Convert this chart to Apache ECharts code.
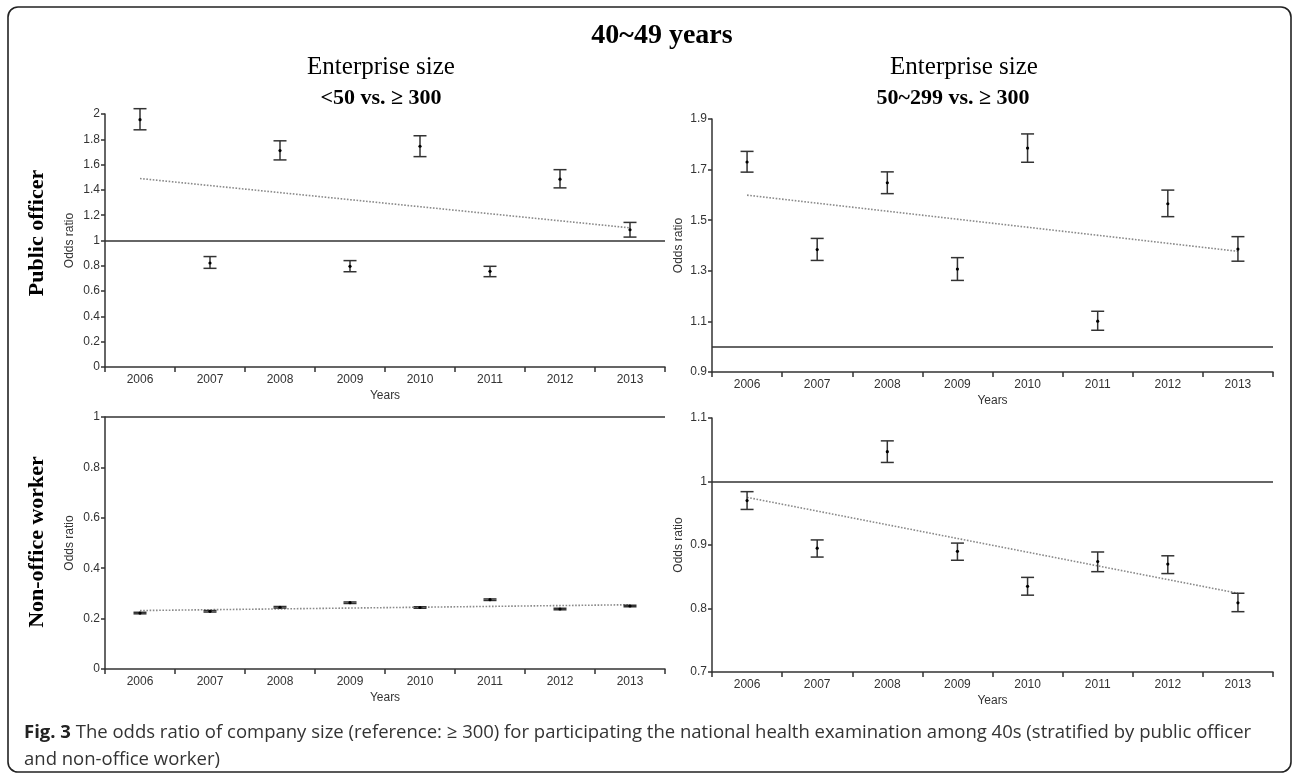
<!DOCTYPE html>
<html>
<head>
<meta charset="utf-8">
<script src="https://cdn.jsdelivr.net/npm/echarts@6/dist/echarts.min.js"></script>
<style>
html,body{margin:0;padding:0;background:#fff;}
#c{width:1295px;height:776px;}
</style>
</head>
<body>
<div id="c"></div>
<script>
// ---- data ----
const years = ['2006','2007','2008','2009','2010','2011','2012','2013'];

// Public officer, <50 vs >=300
const pubSmallOR = [1.955, 0.822, 1.711, 0.796, 1.745, 0.756, 1.485, 1.085];
const pubSmallLo = [1.875, 0.780, 1.637, 0.753, 1.663, 0.714, 1.416, 1.027];
const pubSmallHi = [2.042, 0.873, 1.788, 0.841, 1.828, 0.796, 1.560, 1.143];
const pubSmallTrend = [1.49, 1.10];

// Public officer, 50~299 vs >=300
const pubMidOR = [1.730, 1.384, 1.648, 1.307, 1.785, 1.101, 1.565, 1.386];
const pubMidLo = [1.690, 1.341, 1.605, 1.262, 1.729, 1.065, 1.514, 1.338];
const pubMidHi = [1.772, 1.428, 1.691, 1.352, 1.841, 1.140, 1.619, 1.435];
const pubMidTrend = [1.599, 1.377];

// Non-office worker, <50 vs >=300
const nonSmallOR = [0.222, 0.229, 0.245, 0.263, 0.244, 0.275, 0.238, 0.250];
const nonSmallLo = [0.219, 0.226, 0.242, 0.260, 0.241, 0.272, 0.235, 0.247];
const nonSmallHi = [0.225, 0.232, 0.248, 0.266, 0.247, 0.278, 0.241, 0.253];
const nonSmallTrend = [0.232, 0.255];

// Non-office worker, 50~299 vs >=300
const nonMidOR = [0.970, 0.895, 1.047, 0.890, 0.835, 0.874, 0.870, 0.809];
const nonMidLo = [0.956, 0.881, 1.030, 0.876, 0.821, 0.858, 0.855, 0.795];
const nonMidHi = [0.984, 0.908, 1.064, 0.903, 0.849, 0.889, 0.883, 0.824];
const nonMidTrend = [0.975, 0.824];

const refValue = 1;

// tick labels
const ticksTL = [0, 0.2, 0.4, 0.6, 0.8, 1, 1.2, 1.4, 1.6, 1.8, 2];
const ticksTR = [0.9, 1.1, 1.3, 1.5, 1.7, 1.9];
const ticksBL = [0, 0.2, 0.4, 0.6, 0.8, 1];
const ticksBR = [0.7, 0.8, 0.9, 1, 1.1];

// ---- chart ----
const chart = echarts.init(document.getElementById('c'), null, {renderer: 'canvas'});
const axisColor = '#333';
const sans = 'Liberation Sans, Arial, sans-serif';
const serif = 'Liberation Serif, Times New Roman, serif';
const capFont = 'Open Sans, Noto Sans, sans-serif';

const grids = [
  {left: 105, top: 114, width: 560, height: 253},
  {left: 712, top: 119, width: 561, height: 253},
  {left: 105, top: 417, width: 560, height: 252},
  {left: 712, top: 418, width: 561, height: 254}
];
const ticks = [ticksTL, ticksTR, ticksBL, ticksBR];
const nameGaps = [29, 27, 29, 27];

function xAxis(i) {
  return {
    type: 'category', gridIndex: i, data: years, boundaryGap: true,
    axisLine: {show: true, lineStyle: {color: axisColor, width: 1.5}},
    axisTick: {show: true, alignWithLabel: false, length: 5, lineStyle: {color: axisColor, width: 1.5}},
    axisLabel: {color: '#333', fontSize: 12, fontFamily: sans, margin: 7},
    name: 'Years', nameLocation: 'middle', nameGap: 23,
    nameTextStyle: {color: '#333', fontSize: 12, fontFamily: sans},
    splitLine: {show: false}
  };
}
function yAxis(i) {
  const t = ticks[i];
  return {
    type: 'value', gridIndex: i, min: t[0], max: t[t.length - 1],
    axisLine: {show: true, lineStyle: {color: axisColor, width: 1.5}},
    axisTick: {show: true, length: 4, customValues: t, lineStyle: {color: axisColor, width: 1.5}},
    axisLabel: {color: '#333', fontSize: 12, fontFamily: sans, margin: 5, customValues: t,
      formatter: v => String(+(+v).toFixed(2))},
    splitLine: {show: false},
    name: 'Odds ratio', nameLocation: 'middle', nameGap: nameGaps[i],
    nameTextStyle: {color: '#333', fontSize: 12, fontFamily: sans}
  };
}

function renderErr(params, api) {
  const x = api.value(0), lo = api.value(1), hi = api.value(2), pt = api.value(3);
  const a = api.coord([x, hi]), b = api.coord([x, lo]), p = api.coord([x, pt]);
  const w = 6.5;
  const st = {stroke: '#333', lineWidth: 1.5, fill: null};
  return {
    type: 'group',
    children: [
      {type: 'line', shape: {x1: a[0], y1: a[1], x2: b[0], y2: b[1]}, style: st},
      {type: 'line', shape: {x1: a[0] - w, y1: a[1], x2: a[0] + w, y2: a[1]}, style: st},
      {type: 'line', shape: {x1: b[0] - w, y1: b[1], x2: b[0] + w, y2: b[1]}, style: st},
      {type: 'circle', shape: {cx: p[0], cy: p[1], r: 1.6}, style: {fill: '#000'}}
    ]
  };
}

const panels = [
  [pubSmallOR, pubSmallLo, pubSmallHi, pubSmallTrend],
  [pubMidOR, pubMidLo, pubMidHi, pubMidTrend],
  [nonSmallOR, nonSmallLo, nonSmallHi, nonSmallTrend],
  [nonMidOR, nonMidLo, nonMidHi, nonMidTrend]
];

const series = [];
panels.forEach((pd, i) => {
  const [or, lo, hi, tr] = pd;
  series.push({
    type: 'line', xAxisIndex: i, yAxisIndex: i, silent: true,
    data: [[0, tr[0]], [years.length - 1, tr[1]]],
    symbol: 'none', z: 2,
    lineStyle: {type: 'dotted', color: '#8a8a8a', width: 1.6},
    markLine: {
      silent: true, symbol: ['none', 'none'], label: {show: false},
      lineStyle: {type: 'solid', color: '#333', width: 1.5},
      emphasis: {disabled: true},
      data: [{yAxis: refValue}]
    }
  });
  series.push({
    type: 'custom', xAxisIndex: i, yAxisIndex: i, silent: true, z: 3,
    renderItem: renderErr,
    data: years.map((y, k) => [k, lo[k], hi[k], or[k]])
  });
});

const graphic = [
  {type: 'rect', shape: {x: 8, y: 7, width: 1283, height: 765, r: 10},
   style: {fill: null, stroke: '#222', lineWidth: 1.6}},
  {type: 'text', x: 662, y: 36, style: {text: '40~49 years', font: 'bold 28px ' + serif, fill: '#000', align: 'center', verticalAlign: 'middle'}},
  {type: 'text', x: 381, y: 67, style: {text: 'Enterprise size', font: '25px ' + serif, fill: '#000', align: 'center', verticalAlign: 'middle'}},
  {type: 'text', x: 381, y: 98, style: {text: '<50 vs. \u2265 300', font: 'bold 22px ' + serif, fill: '#000', align: 'center', verticalAlign: 'middle'}},
  {type: 'text', x: 964, y: 67, style: {text: 'Enterprise size', font: '25px ' + serif, fill: '#000', align: 'center', verticalAlign: 'middle'}},
  {type: 'text', x: 953, y: 98, style: {text: '50~299 vs. \u2265 300', font: 'bold 22px ' + serif, fill: '#000', align: 'center', verticalAlign: 'middle'}},
  {type: 'text', x: 37, y: 233, rotation: Math.PI / 2, style: {text: 'Public officer', font: 'bold 22px ' + serif, fill: '#000', align: 'center', verticalAlign: 'middle'}},
  {type: 'text', x: 37, y: 542, rotation: Math.PI / 2, style: {text: 'Non-office worker', font: 'bold 22px ' + serif, fill: '#000', align: 'center', verticalAlign: 'middle'}},
  {type: 'text', x: 24, y: 733, style: {
    text: '{b|Fig. 3} The odds ratio of company size (reference: \u2265 300) for participating the national health examination among 40s (stratified by public officer',
    font: '18.5px ' + capFont, fill: '#333', align: 'left', verticalAlign: 'middle',
    rich: {b: {font: 'bold 18.5px ' + capFont, fill: '#222'}}
  }},
  {type: 'text', x: 24, y: 760, style: {
    text: 'and non-office worker)',
    font: '18.5px ' + capFont, fill: '#333', align: 'left', verticalAlign: 'middle'
  }}
];

chart.setOption({
  animation: false,
  backgroundColor: '#fff',
  grid: grids,
  xAxis: [0, 1, 2, 3].map(xAxis),
  yAxis: [0, 1, 2, 3].map(yAxis),
  series: series,
  graphic: graphic
});
</script>
</body>
</html>
